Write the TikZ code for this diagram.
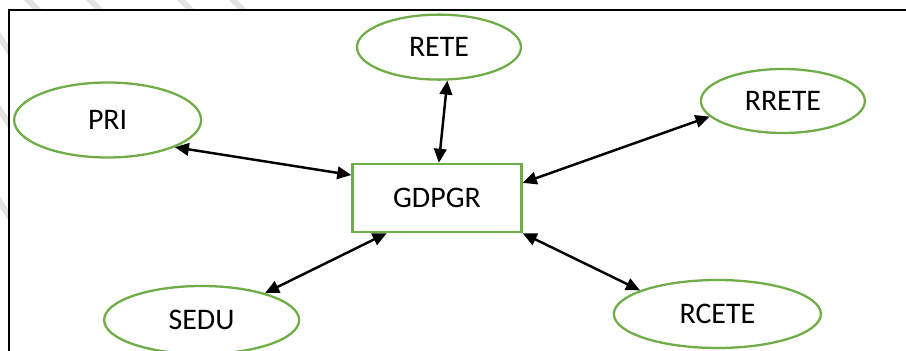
\documentclass[tikz,border=0pt]{standalone}
\usepackage{fontspec}
\setmainfont{Carlito}
\usepackage{xcolor}
\usepackage{tikz}
\usetikzlibrary{shapes.geometric, arrows.meta, positioning}

\definecolor{leafgreen}{HTML}{70AD47}

\begin{document}
\begin{tikzpicture}[
   leaf/.style={ellipse, draw=leafgreen, line width=1.3pt, inner sep=0pt, font=\fontsize{17}{20}\selectfont},
   hub/.style={rectangle, draw=leafgreen, line width=1.4pt, minimum width=3.38cm, minimum height=1.36cm, font=\fontsize{17}{20}\selectfont},
   link/.style={{Triangle[length=0.28cm,width=0.25cm]}-{Triangle[length=0.28cm,width=0.25cm]}, line width=1.4pt, black},
   stripe/.style={gray!22, line width=0.12cm}
]
   \useasboundingbox (0,0) rectangle (18.12,-7.02);
   \clip (0,0) rectangle (18.12,-7.02);

   % Background stripes
   \foreach \x in {0.76, 2.0, 3.82, 4.86}
      \draw[stripe] (\x-0.25,0.05) -- (\x+0.25,-0.45);
   \foreach \y in {-0.9, -2.36, -4.2}
      \draw[stripe] (-0.1,\y+0.3) -- (0.3,\y-0.3);

   % Frame
   \draw[line width=1.2pt, fill=white] (0.18,-0.2) rectangle (18.6,-7.5);

   % Centre
   \node[hub] (gdpgr) at (8.74,-3.96) {GDPGR};

   % Surrounding ellipses
   \node[leaf, minimum width=3.28cm, minimum height=1.3cm, above=1.64cm of gdpgr, xshift=0.04cm] (rete) {RETE};
   \node[leaf, minimum width=3.74cm, minimum height=1.5cm, left=2.98cm of gdpgr, yshift=1.56cm] (pri) {PRI};
   \node[leaf, minimum width=3.28cm, minimum height=1.28cm, right=3.54cm of gdpgr, yshift=1.94cm] (rrete) {RRETE};
   \node[leaf, minimum width=3.9cm, minimum height=1.36cm, left=1.02cm of gdpgr, yshift=-2.44cm] (sedu) {SEDU};
   \node[leaf, minimum width=4.14cm, minimum height=1.36cm, right=1.8cm of gdpgr, yshift=-2.32cm] (rcete) {RCETE};

   % Connections
   \draw[link] (pri.-22) -- (gdpgr.165);
   \draw[link] (rete.-76) -- (gdpgr.87);
   \draw[link] (rrete.192) -- (gdpgr.10);
   \draw[link] (sedu.23) -- (gdpgr.-145);
   \draw[link] (rcete.163) -- (gdpgr.south east);
\end{tikzpicture}
\end{document}
